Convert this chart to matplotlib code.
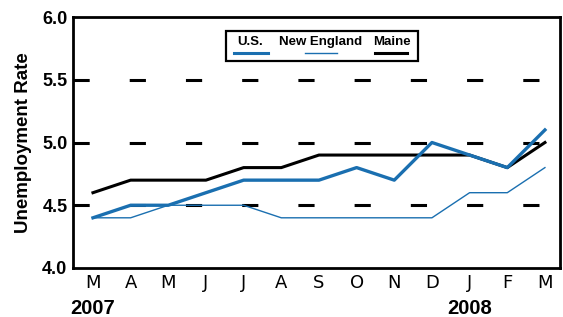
import numpy as np
import matplotlib.pyplot as plt
from matplotlib.lines import Line2D
from matplotlib.patches import Rectangle

months = ["M", "A", "M", "J", "J", "A", "S", "O", "N", "D", "J", "F", "M"]
us = [4.4, 4.5, 4.5, 4.6, 4.7, 4.7, 4.7, 4.8, 4.7, 5.0, 4.9, 4.8, 5.1]
new_england = [4.4, 4.4, 4.5, 4.5, 4.5, 4.4, 4.4, 4.4, 4.4, 4.4, 4.6, 4.6, 4.8]
maine = [4.6, 4.7, 4.7, 4.7, 4.8, 4.8, 4.9, 4.9, 4.9, 4.9, 4.9, 4.8, 5.0]
years = ["2007", "2008"]
year_pos = [0, 10]

blue = "#1a6fb0"
bold_font = "Liberation Sans"

fig = plt.figure(figsize=(5.63, 3.17), dpi=100)
ax = fig.add_axes([73/563, 49/317, 487/563, 251/317])

x = np.arange(len(months))
for g in [4.5, 5.0, 5.5]:
    ax.axhline(g, color="black", lw=2.2, dashes=(5.3, 13.1), zorder=1)

ax.plot(x, maine, color="black", lw=2.2, zorder=3)
ax.plot(x, new_england, color=blue, lw=1.0, zorder=3)
ax.plot(x, us, color=blue, lw=2.4, zorder=4)

ax.set_xlim(-0.53, 12.4)
ax.set_ylim(4.0, 6.0)
ax.set_yticks([4.0, 4.5, 5.0, 5.5, 6.0])
ax.set_yticklabels(["4.0", "4.5", "5.0", "5.5", "6.0"], fontfamily=bold_font,
                   fontweight="bold", fontsize=13)
ax.set_xticks(x)
ax.set_xticklabels(months, fontsize=13)
ax.tick_params(length=0, pad=4)
for s in ax.spines.values():
    s.set_linewidth(2)

ax.set_ylabel("Unemployment Rate", fontfamily=bold_font, fontweight="bold",
              fontsize=13.5, labelpad=7)

for yl, xp in zip(years, year_pos):
    ax.text(xp, 3.68, yl, ha="center", va="center", fontfamily=bold_font,
            fontweight="bold", fontsize=14.5)

# legend: labels above line samples
ax.add_patch(Rectangle((0.314, 0.825), 0.394, 0.119, transform=ax.transAxes,
                       fill=False, lw=1.6, edgecolor="black", zorder=5))
leg_names = ["U.S.", "New England", "Maine"]
leg_cols = [blue, blue, "black"]
leg_lw = [2.2, 1.0, 2.2]
leg_text_x = [0.363, 0.508, 0.655]
leg_line_x = [(0.331, 0.400), (0.476, 0.542), (0.620, 0.686)]
for name, col, lw, tx, (l0, l1) in zip(leg_names, leg_cols, leg_lw, leg_text_x, leg_line_x):
    ax.text(tx, 0.90, name, transform=ax.transAxes, ha="center", va="center",
            fontfamily=bold_font, fontweight="bold", fontsize=9.5)
    ax.add_line(Line2D([l0, l1], [0.857, 0.857], transform=ax.transAxes,
                       color=col, lw=lw, zorder=6))

fig.savefig("out.png", dpi=100)
